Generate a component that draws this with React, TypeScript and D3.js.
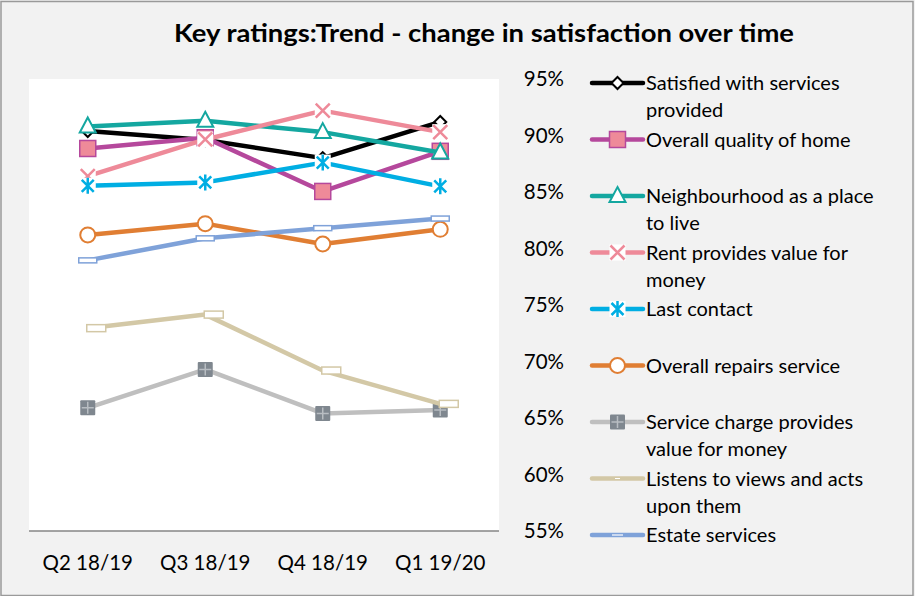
import React from "react";
import * as d3 from "d3";

const categories = ["Q2 18/19", "Q3 18/19", "Q4 18/19", "Q1 19/20"];
const yTicks = [55, 60, 65, 70, 75, 80, 85, 90, 95];

const seriesNames = [
  ["Satisfied with services", "provided"],
  ["Overall quality of home"],
  ["Neighbourhood as a place", "to live"],
  ["Rent provides value for", "money"],
  ["Last contact"],
  ["Overall repairs service"],
  ["Service charge provides", "value for money"],
  ["Listens to views and acts", "upon them"],
  ["Estate services"],
];

const satisfied = [90.4, 89.6, 88.0, 91.2];
const qualityHome = [88.85, 89.8, 85.05, 88.6];
const neighbourhood = [90.8, 91.3, 90.3, 88.5];
const rentValue = [86.4, 89.65, 92.2, 90.3];
const lastContact = [85.55, 85.85, 87.6, 85.5];
const repairs = [81.2, 82.2, 80.4, 81.7];
const serviceCharge = [65.9, 69.3, 65.4, 65.7];
const listens = [72.95, 74.15, 69.2, 66.25];
const estate = [78.95, 80.9, 81.8, 82.65];

const seriesValues = [satisfied, qualityHome, neighbourhood, rentValue, lastContact, repairs, serviceCharge, listens, estate];
const seriesColors = ["#000000", "#B5489C", "#14A7A0", "#EE8A99", "#00AEE3", "#E07E33", "#BFBFBF", "#D3C8A6", "#7FA2D9"];
const markerTypes = ["diamond", "square", "triangle", "x", "star", "circle", "graysquare", "dashTan", "dashBlue"];

const W = 915;
const H = 596;
const plot = { left: 29, right: 499, top: 79, bottom: 531 };

function Marker({ type, cx, cy, color }: { type: string; cx: number; cy: number; color: string }) {
  switch (type) {
    case "diamond":
      return <path d={`M${cx},${cy - 6} L${cx + 6},${cy} L${cx},${cy + 6} L${cx - 6},${cy} Z`} fill="#fff" stroke={color} strokeWidth={2} />;
    case "square":
      return <rect x={cx - 8} y={cy - 8} width={16} height={16} fill="#EE8A99" stroke={color} strokeWidth={1.5} />;
    case "triangle":
      return <path d={`M${cx},${cy - 9} L${cx + 8},${cy + 6} L${cx - 8},${cy + 6} Z`} fill="#fff" stroke={color} strokeWidth={2} />;
    case "x":
      return (
        <g>
          <rect x={cx - 8} y={cy - 8} width={16} height={16} fill="#fff" />
          <path d={`M${cx - 7},${cy - 7} L${cx + 7},${cy + 7} M${cx + 7},${cy - 7} L${cx - 7},${cy + 7}`} stroke={color} strokeWidth={2.5} />
        </g>
      );
    case "star":
      return (
        <g>
          <rect x={cx - 8} y={cy - 8} width={16} height={16} fill="#fff" />
          <path d={`M${cx},${cy - 8} L${cx},${cy + 8} M${cx - 6},${cy - 6} L${cx + 6},${cy + 6} M${cx + 6},${cy - 6} L${cx - 6},${cy + 6}`} stroke={color} strokeWidth={2.5} />
        </g>
      );
    case "circle":
      return <circle cx={cx} cy={cy} r={7.5} fill="#fff" stroke={color} strokeWidth={2} />;
    case "graysquare":
      return (
        <g>
          <rect x={cx - 7.5} y={cy - 7.5} width={15} height={15} rx={1} fill="#7F878F" />
          <path d={`M${cx},${cy - 6} L${cx},${cy + 6} M${cx - 6},${cy} L${cx + 6},${cy}`} stroke="#B8BDC2" strokeWidth={1.5} />
        </g>
      );
    case "dashTan":
      return <rect x={cx - 1} y={cy - 3.5} width={19} height={7} fill="#fff" stroke={color} strokeWidth={1.5} />;
    case "dashBlue":
      return <rect x={cx - 9} y={cy - 2.5} width={18} height={5} fill="#fff" stroke={color} strokeWidth={1.5} />;
    default:
      return null;
  }
}

export default function App() {
  const x = d3.scaleBand<string>().domain(categories).range([plot.left, plot.right]);
  const y = d3.scaleLinear().domain([55, 95]).range([plot.bottom, plot.top]);
  const cx = (c: string) => (x(c) as number) + x.bandwidth() / 2;
  const line = d3
    .line<number>()
    .x((_, i) => cx(categories[i]))
    .y((v) => y(v));

  const legendX = 592;
  const font = "Lato, 'Open Sans', sans-serif";

  return (
    <svg width={W} height={H} style={{ position: "absolute", left: 0, top: 0 }} fontFamily={font}>
      <rect x={0} y={0} width={W} height={H} fill="#F2F2F2" />
      <rect x={1} y={1.5} width={W - 3} height={H - 2} fill="none" stroke="#9A9A9A" strokeWidth={1.5} />
      <text x={484} y={42} textAnchor="middle" fontSize={25} fontWeight="bold" fill="#000" textLength={620} lengthAdjust="spacingAndGlyphs">
        Key ratings:Trend - change in satisfaction over time
      </text>
      <rect x={plot.left} y={plot.top} width={plot.right - plot.left} height={plot.bottom - plot.top} fill="#fff" />
      <line x1={plot.left} x2={plot.right} y1={plot.bottom} y2={plot.bottom} stroke="#868686" strokeWidth={1.5} />

      {yTicks.map((t) => (
        <text key={t} x={564} y={y(t)} dy="0.35em" textAnchor="end" fontSize={20.5} fill="#000">
          {t}%
        </text>
      ))}
      {categories.map((c) => (
        <text key={c} x={cx(c)} y={563} dy="0.35em" textAnchor="middle" fontSize={20.5} fill="#000">
          {c}
        </text>
      ))}

      {seriesValues.map((vals, si) => (
        <g key={si}>
          <path d={line(vals) as string} fill="none" stroke={seriesColors[si]} strokeWidth={4.5} strokeLinejoin="round" />
          {vals.map((v, i) => (
            <Marker key={i} type={markerTypes[si]} cx={cx(categories[i])} cy={y(v)} color={seriesColors[si]} />
          ))}
        </g>
      ))}

      {seriesNames.map((lines, si) => {
        const ly = y(95 - si * 5) + 4;
        return (
          <g key={si}>
            <line x1={legendX} x2={legendX + 51} y1={ly} y2={ly} stroke={seriesColors[si]} strokeWidth={4.5} strokeLinecap="round" />
            <Marker
              type={markerTypes[si] === "dashTan" ? "none" : markerTypes[si] === "dashBlue" ? "none" : markerTypes[si]}
              cx={legendX + 25.5}
              cy={ly}
              color={seriesColors[si]}
            />
            {markerTypes[si] === "dashTan" && <line x1={legendX + 23} x2={legendX + 28} y1={ly} y2={ly} stroke="#fff" strokeWidth={1} />}
            {markerTypes[si] === "dashBlue" && <line x1={legendX + 20} x2={legendX + 31} y1={ly} y2={ly} stroke="#fff" strokeWidth={1.2} />}
            {lines.map((t, li) => (
              <text key={li} x={legendX + 54} y={ly + li * 27} dy="0.35em" fontSize={20} fill="#000">
                {t}
              </text>
            ))}
          </g>
        );
      })}
    </svg>
  );
}
